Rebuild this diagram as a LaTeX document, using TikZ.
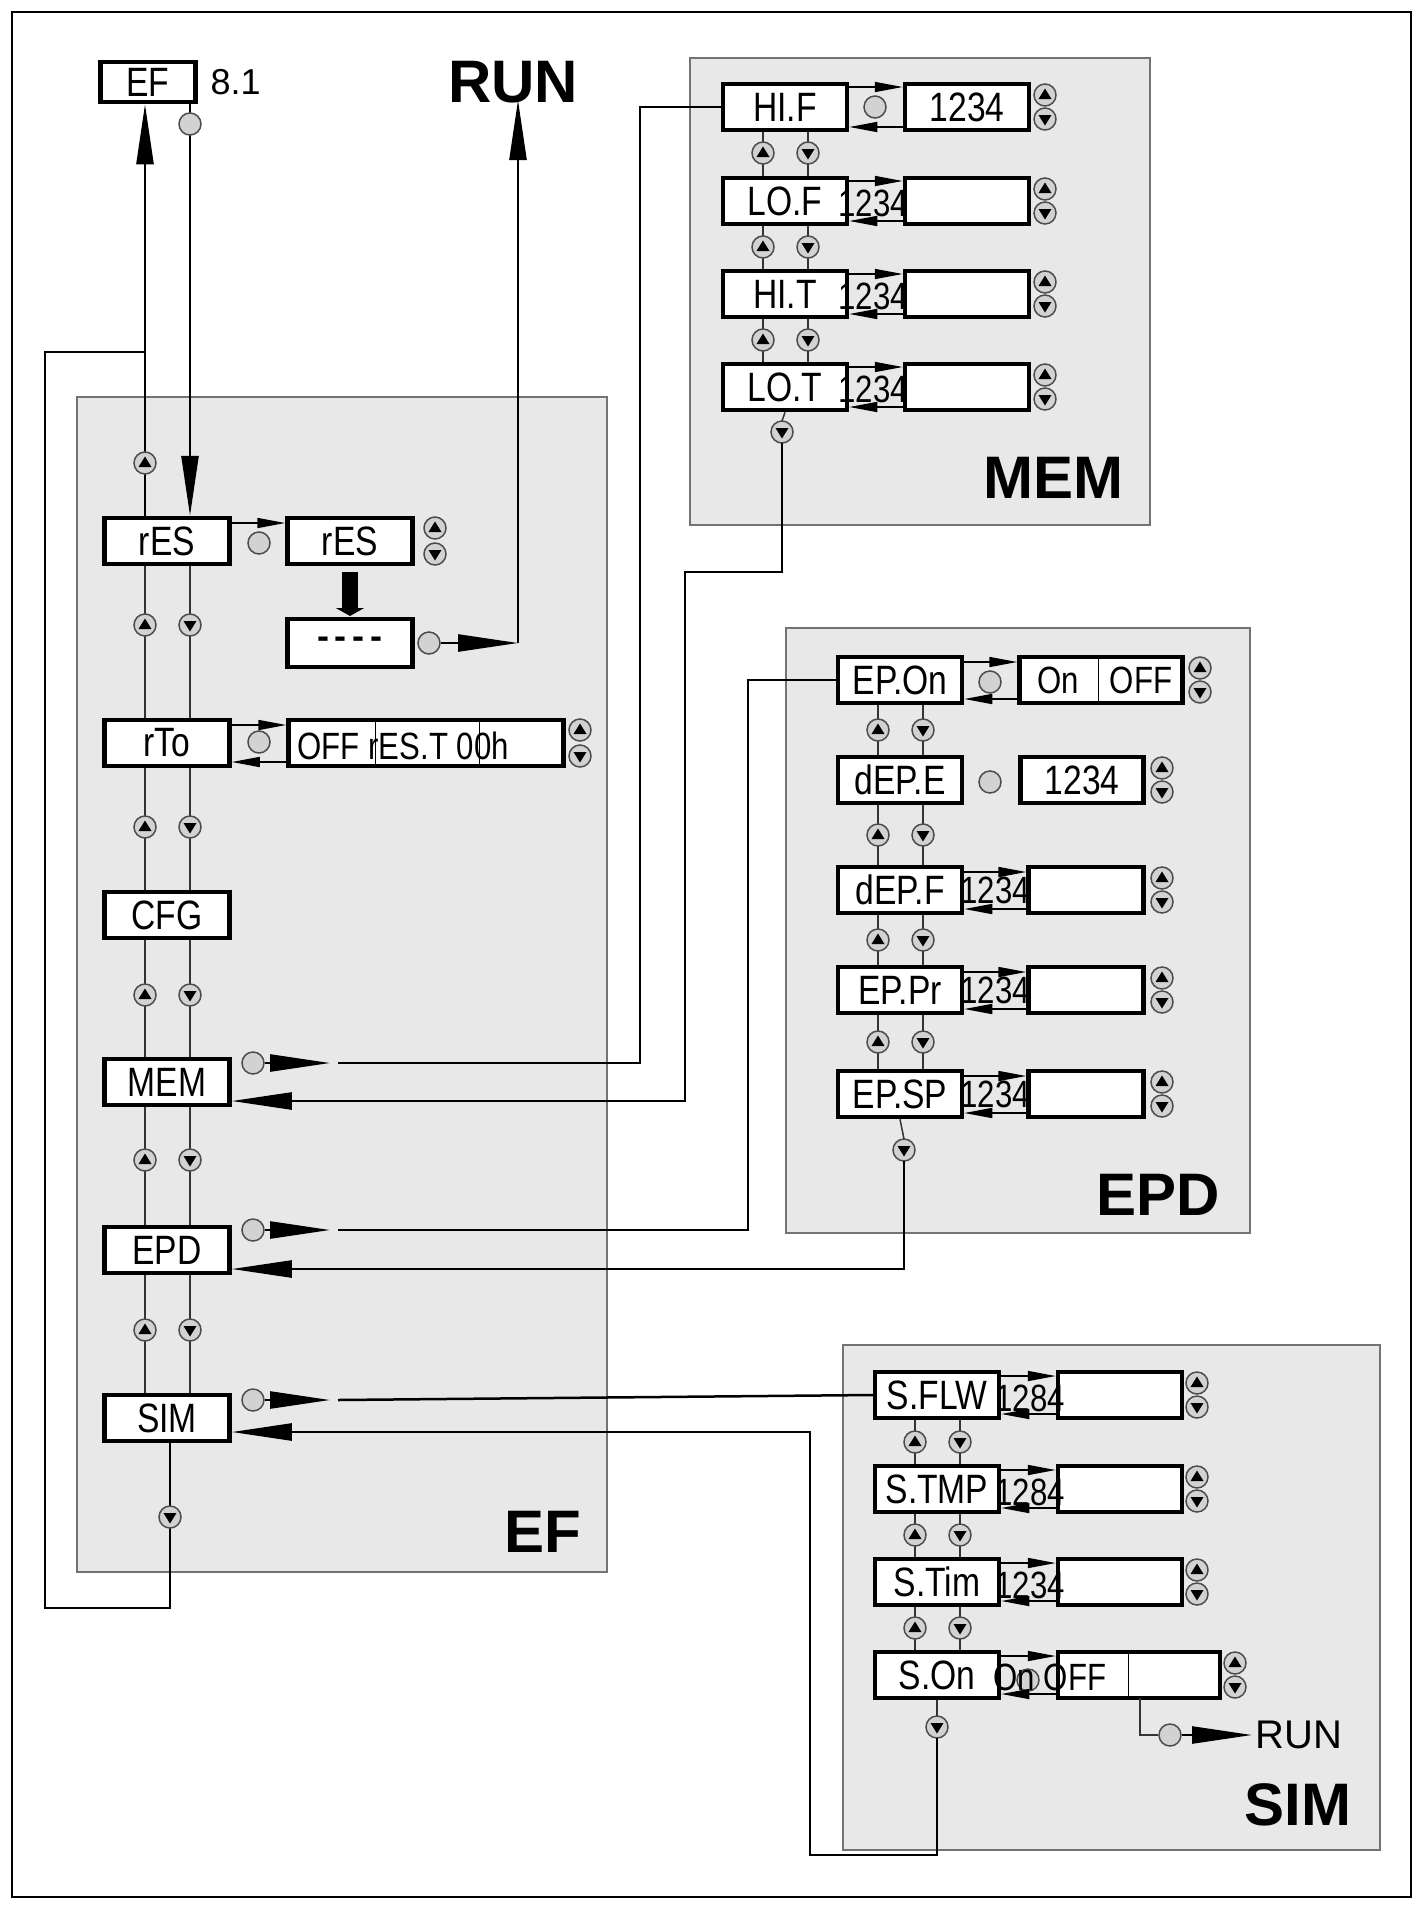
\documentclass[tikz,border=0pt]{standalone}
\usepackage{fontspec}
\setmainfont{Liberation Sans}
\newfontfamily\dispfont{Liberation Sans}[FakeStretch=0.82]
\usetikzlibrary{arrows.meta,calc}

\tikzset{
	key/.style={draw,line width=4.5pt,fill=white,minimum width=122pt,minimum height=46pt,inner sep=0pt,font=\dispfont\fontsize{41}{43}\selectfont},
	val/.style={key,minimum width=124pt},
	btn/.style={circle,draw=black!70,line width=1.5pt,fill=gray!35,minimum size=22pt,inner sep=0pt},
	big/.style={-{Triangle[length=60pt,width=17pt]},line width=2.5pt},
	small/.style={-{Triangle[length=28pt,width=10pt]},line width=1.6pt},
	link/.style={line width=2.5pt},
	thinl/.style={line width=1.5pt,black!80},
	panel/.style={fill=black!9,draw=black!55,line width=1.5pt},
	title/.style={font=\bfseries\fontsize{60}{62}\selectfont},
	txt/.style={font=\dispfont\fontsize{38}{40}\selectfont},
	btnup/.pic={\draw[black!70,line width=1.5pt,fill=gray!35] (0,0) circle (11); \fill (-6.5,4) -- (6.5,4) -- (0,-6.5) -- cycle;},
	btndn/.pic={\draw[black!70,line width=1.5pt,fill=gray!35] (0,0) circle (11); \fill (-6.5,-4) -- (6.5,-4) -- (0,6.5) -- cycle;},
}

\begin{document}
\begin{tikzpicture}[x=1pt,y=-1pt]
	\useasboundingbox (0,0) rectangle (1423,1909);
	\draw[line width=2pt] (12,12) rectangle (1411,1897);

	% panels
	\draw[panel] (77,397) rectangle (607,1572);
	\draw[panel] (690,58) rectangle (1150,525);
	\draw[panel] (786,628) rectangle (1250,1233);
	\draw[panel] (843,1345) rectangle (1380,1850);
	\node[title] (tEF) at (543,1532) {EF};
	\node[title] (tMEM) at (1053,478) {MEM};
	\node[title] (tEPD) at (1158,1195) {EPD};
	\node[title] (tSIM) at (1298,1805) {SIM};

	% top
	\node[key,minimum width=95pt,minimum height=40pt] (EF) at (148,82) {EF};
	\node[font=\fontsize{36}{38}\selectfont,anchor=west] (ver) at (207,82) {8.1};
	\node[title] (RUN) at (513,82) {RUN};

	% EF column
	\foreach \n/\t/\y in {rES/rES/541, rTo/rTo/743, CFG/CFG/915, MEM/MEM/1082, EPD/EPD/1250, SIM/SIM/1418}
		\node[key,minimum width=125pt] (\n) at (167,\y) {\t};
	\foreach \a/\b/\m in {rES/rTo/625, rTo/CFG/827, CFG/MEM/995, MEM/EPD/1160, EPD/SIM/1330} {
		\draw[thinl] ([xshift=-22pt]\a.south) -- ([xshift=-22pt]\b.north);
		\draw[thinl] ([xshift=23pt]\a.south) -- ([xshift=23pt]\b.north);
		\pic at (145,\m) {btnup};
		\pic at (190,\m) {btndn};
	}

	% EF <-> rES, loop from SIM
	\coordinate (l2) at (45,1608);
	\coordinate (l3) at (45,352);
	\draw[link,-{Triangle[length=60pt,width=17pt]}] ([xshift=-22pt]rES.north) -- ([xshift=-3pt]EF.south);
	\draw[link] ([xshift=3pt]SIM.south) |- (l2) -- (l3) -| ([xshift=-22pt]rES.north);
	\pic at (145,463) {btnup};
	\pic at (170,1517) {btndn};
	\draw[big] ([xshift=42pt]EF.south) -- ([xshift=23pt]rES.north);
	\node[btn] (bEF) at (190,124) {};

	% rES
	\node[key,minimum width=125pt] (rESv) at (350,541) {rES};
	\pic at (435,528) {btnup};
	\pic at (435,554) {btndn};
	\node[btn] (brES) at (259,543) {};
	\draw[small] ([yshift=18pt]rES.east) -- ([yshift=18pt]rESv.west);
	\node[key,minimum width=125pt,minimum height=48pt,font=\bfseries\fontsize{36}{38}\selectfont] (dash) at (350,643) {-\,-\,-\,-};
	\draw[-{Triangle[length=8pt,width=28pt]},line width=16pt] (350,572) -- (350,616);
	\node[btn] (bdash) at (429,643) {};
	\coordinate (run1) at (518,643);
	\draw[big] (bdash) -- (run1);
	\draw[big] (run1) -- (518,100);

	% rTo
	\node[key,minimum width=275pt] (rTov) at (426,743) {};
	\draw[line width=1pt] (375,720) -- (375,766) (479,720) -- (479,766);
	\node[txt,anchor=west] (rTot) at (294,746) {OFF rES.T 00h};
	\pic at (580,730) {btnup};
	\pic at (580,756) {btndn};
	\node[btn] (brTo) at (259,742) {};
	\draw[small] ([yshift=18pt]rTo.east) -- ([yshift=18pt]rTov.west);
	\draw[small] ([yshift=-19pt]rTov.west) -- ([yshift=-19pt]rTo.east);

	% MEM
	\foreach \n/\t/\y/\v in {HIF/HI.F/107/1234, LOF/LO.F/201/, HIT/HI.T/294/, LOT/LO.T/387/} {
		\node[key,minimum width=124pt] (\n) at (785,\y) {\t};
		\node[val] (\n v) at (967,\y) {\v};
		\pic at (1045,\y-12) {btnup};
		\pic at (1045,\y+12) {btndn};
		\draw[small] ([yshift=20pt]\n.east) -- ([yshift=20pt]\n v.west);
		\draw[small] ([yshift=-20pt]\n v.west) -- ([yshift=-20pt]\n.east);
	}
	\node[btn] (bHIF) at (875,107) {};
	\foreach \n in {LOF,HIT,LOT}
		\node[txt] at ([xshift=24pt,yshift=-2pt]\n.east) {1234};
	\foreach \a/\b/\m in {HIF/LOF/153, LOF/HIT/247, HIT/LOT/340} {
		\draw[thinl] ([xshift=-22pt]\a.south) -- ([xshift=-22pt]\b.north);
		\draw[thinl] ([xshift=23pt]\a.south) -- ([xshift=23pt]\b.north);
		\pic at (763,\m) {btnup};
		\pic at (808,\m) {btndn};
	}
	\node[btn] (bMEM) at (253,1063) {};
	\coordinate (m1) at (330,1063);
	\draw[big] (bMEM) -- (m1);
	\draw[link] (338,1063) -| (640,107) -- (HIF.west);
	\pic at (782,432) {btndn};
	\draw[thinl] (LOT.south) -- (782,421);
	\draw[big] (782,443) |- (685,572) -- (685,1101) -- ([yshift=-19pt]MEM.east);

	% EPD
	\foreach \n/\t/\y in {EPOn/EP.On/680, dEPE/dEP.E/780, dEPF/dEP.F/890, EPPr/EP.Pr/990, EPSP/EP.SP/1094}
		\node[key,minimum width=124pt] (\n) at (900,\y) {\t};
	\node[key,minimum width=163pt] (EPOnv) at (1101,680) {};
	\draw[line width=1pt] (1098,659) -- (1098,701);
	\node[txt] at (1058,680) {On};
	\node[txt] at (1141,680) {OFF};
	\node[btn] (bEPOn) at (990,682) {};
	\draw[small] ([yshift=18pt]EPOn.east) -- ([yshift=18pt]EPOnv.west);
	\draw[small] ([yshift=-19pt]EPOnv.west) -- ([yshift=-19pt]EPOn.east);
	\pic at (1200,668) {btnup};
	\pic at (1200,692) {btndn};
	\node[val,minimum width=123pt] (dEPEv) at (1082,780) {1234};
	\node[btn] (bdEPE) at (990,782) {};
	\pic at (1162,768) {btnup};
	\pic at (1162,792) {btndn};
	\foreach \n/\y in {dEPF/890, EPPr/990, EPSP/1094} {
		\node[val,minimum width=115pt] (\n v) at (1086,\y) {};
		\node[txt] at (995,\y) {1234};
		\draw[small] ([yshift=18pt]\n.east) -- ([yshift=18pt]\n v.west);
		\draw[small] ([yshift=-19pt]\n v.west) -- ([yshift=-19pt]\n.east);
		\pic at (1162,\y-12) {btnup};
		\pic at (1162,\y+12) {btndn};
	}
	\foreach \a/\b/\m in {EPOn/dEPE/730, dEPE/dEPF/835, dEPF/EPPr/940, EPPr/EPSP/1042} {
		\draw[thinl] ([xshift=-22pt]\a.south) -- ([xshift=-22pt]\b.north);
		\draw[thinl] ([xshift=23pt]\a.south) -- ([xshift=23pt]\b.north);
		\pic at (878,\m) {btnup};
		\pic at (923,\m) {btndn};
	}
	\node[btn] (bEPD) at (253,1230) {};
	\coordinate (e1) at (330,1230);
	\draw[big] (bEPD) -- (e1);
	\draw[link] (338,1230) -| (748,680) -- (EPOn.west);
	\pic at (904,1150) {btndn};
	\draw[thinl] (EPSP.south) -- (904,1139);
	\draw[big] (904,1161) |- ([yshift=-19pt]EPD.east);

	% SIM
	\foreach \n/\t/\y/\o in {SFLW/S.FLW/1395/1284, STMP/S.TMP/1489/1284, STim/S.Tim/1582/1234} {
		\node[key,minimum width=124pt] (\n) at (937,\y) {\t};
		\node[val] (\n v) at (1120,\y) {};
		\node[txt] at (1030,\y+3) {\o};
		\draw[small] ([yshift=19pt]\n.east) -- ([yshift=19pt]\n v.west);
		\draw[small] ([yshift=-19pt]\n v.west) -- ([yshift=-19pt]\n.east);
		\pic at (1197,\y-12) {btnup};
		\pic at (1197,\y+12) {btndn};
	}
	\node[key,minimum width=124pt] (SOn) at (937,1675) {S.On};
	\node[key,minimum width=162pt] (SOnv) at (1139,1675) {};
	\draw[line width=1pt] (1128,1654) -- (1128,1696);
	\node[btn] (bSOn) at (1028,1680) {};
	\node[txt] at (1050,1677) {On OFF};
	\draw[small] ([yshift=19pt]SOn.east) -- ([yshift=19pt]SOnv.west);
	\draw[small] ([yshift=-19pt]SOnv.west) -- ([yshift=-19pt]SOn.east);
	\pic at (1235,1663) {btnup};
	\pic at (1235,1687) {btndn};
	\foreach \a/\b/\m in {SFLW/STMP/1442, STMP/STim/1535, STim/SOn/1628} {
		\draw[thinl] ([xshift=-22pt]\a.south) -- ([xshift=-22pt]\b.north);
		\draw[thinl] ([xshift=23pt]\a.south) -- ([xshift=23pt]\b.north);
		\pic at (915,\m) {btnup};
		\pic at (960,\m) {btndn};
	}
	\node[btn] (bRUN2) at (1170,1735) {};
	\node[font=\fontsize{40}{42}\selectfont,anchor=west] (RUN2) at (1252,1735) {RUN};
	\draw[thinl] (1140,1698) |- (bRUN2);
	\draw[big] (bRUN2) -- (RUN2.west);
	\node[btn] (bSIM) at (253,1400) {};
	\coordinate (s1) at (330,1400);
	\draw[big] (bSIM) -- (s1);
	\draw[link] (338,1400) -- (SFLW.west);
	\pic at (937,1727) {btndn};
	\draw[thinl] (SOn.south) -- (937,1716);
	\draw[big] (937,1738) |- (810,1855) |- ([yshift=-14pt]SIM.east);
\end{tikzpicture}
\end{document}
